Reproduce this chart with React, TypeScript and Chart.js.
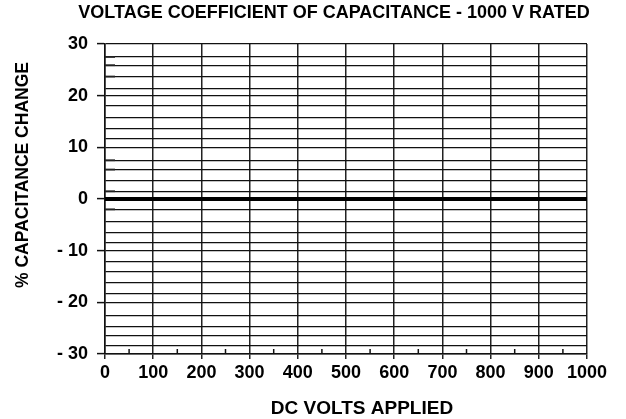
import React, { useEffect, useRef } from "react";
import { Chart, registerables } from "chart.js";

Chart.register(...registerables);

// ---- data ----
const voltages = [0, 100, 200, 300, 400, 500, 600, 700, 800, 900, 1000];
const capChange = [0, 0, 0, 0, 0, 0, 0, 0, 0, 0, 0];

const yMajorTicks = [-30, -20, -10, 0, 10, 20, 30];
const yMinorGrid = [
  27.5, 25.9, 23.7, 21.4, 18.1, 15.7, 13.7, 11.6, 7.5, 5.7, 3.55, 1.5,
  -2.0, -4.3, -6.5, -8.5, -12.2, -14.1, -16.2, -18.3, -22.5, -24.6, -26.5, -28.4,
];
const yStubs = [27.5, 25.9, 23.7, 7.5, 5.7, 1.5, -2.0];
const xMajorTicks = [0, 100, 200, 300, 400, 500, 600, 700, 800, 900, 1000];
const xMinorTicks = [50, 150, 250, 350, 450, 550, 650, 750, 850, 950];

const titleText = "VOLTAGE COEFFICIENT OF CAPACITANCE - 1000 V RATED";
const xTitleText = "DC VOLTS APPLIED";
const yTitleText = "% CAPACITANCE CHANGE";

const FONT = "'Liberation Sans', Arial, Helvetica, sans-serif";

const fmtY = (v: number) => (v < 0 ? "- " + Math.abs(v) : String(v));

const decorPlugin = {
  id: "decor",
  afterDatasetsDraw(chart: any) {
    const { ctx, chartArea, scales } = chart;
    const xs = scales.x;
    const ys = scales.y;
    ctx.save();
    ctx.strokeStyle = "#111";
    // minor x ticks pointing up from the bottom axis
    ctx.lineWidth = 1.5;
    xMinorTicks.forEach((v) => {
      const x = xs.getPixelForValue(v);
      ctx.beginPath();
      ctx.moveTo(x, chartArea.bottom);
      ctx.lineTo(x, chartArea.bottom - 5);
      ctx.stroke();
    });
    // short heavier stubs on left edge
    ctx.lineWidth = 1.8;
    ctx.strokeStyle = "#222";
    yStubs.forEach((v) => {
      const y = ys.getPixelForValue(v);
      ctx.beginPath();
      ctx.moveTo(chartArea.left, y);
      ctx.lineTo(chartArea.left + 10, y);
      ctx.stroke();
    });
    ctx.restore();
  },
  afterDraw(chart: any) {
    const { ctx, chartArea } = chart;
    const cx = (chartArea.left + chartArea.right) / 2;
    const cy = (chartArea.top + chartArea.bottom) / 2;
    ctx.save();
    ctx.fillStyle = "#000";
    ctx.textAlign = "center";
    ctx.textBaseline = "middle";
    ctx.font = `bold 18px ${FONT}`;
    ctx.fillText(titleText, cx - 12, 13.5);
    ctx.font = `bold 19px ${FONT}`;
    ctx.fillText(xTitleText, cx + 16, 409);
    ctx.font = `bold 17.5px ${FONT}`;
    ctx.translate(23, cy - 24);
    ctx.rotate(-Math.PI / 2);
    ctx.fillText(yTitleText, 0, 0);
    ctx.restore();
  },
};

export default function App() {
  const ref = useRef<HTMLCanvasElement | null>(null);

  useEffect(() => {
    if (!ref.current) return;
    const chart = new Chart(ref.current, {
      type: "line",
      data: {
        labels: voltages,
        datasets: [
          {
            label: "% Capacitance Change",
            data: voltages.map((v, i) => ({ x: v, y: capChange[i] })),
            borderColor: "#000",
            borderWidth: 4,
            pointRadius: 0,
            fill: false,
            tension: 0,
          },
        ],
      },
      options: {
        animation: false,
        responsive: false,
        devicePixelRatio: 1,
        layout: { padding: { top: 44, right: 39, left: 0, bottom: 0 } },
        plugins: {
          legend: { display: false },
          title: { display: false },
          tooltip: { enabled: false },
        },
        scales: {
          x: {
            type: "linear",
            min: 0,
            max: 1000,
            afterBuildTicks: (scale: any) => {
              scale.ticks = xMajorTicks.map((v) => ({ value: v }));
            },
            afterFit: (scale: any) => {
              scale.height = 65;
            },
            grid: {
              color: "#222",
              lineWidth: 1.5,
              tickLength: 5,
              tickColor: "#222",
              tickWidth: 1.5,
            },
            border: { display: true, color: "#111", width: 1.5 },
            ticks: {
              autoSkip: false,
              maxRotation: 0,
              padding: 3,
              color: "#000",
              font: { family: FONT, weight: "bold", size: 18 },
              callback: (v: any) => String(v),
            },
          },
          y: {
            type: "linear",
            min: -30,
            max: 30,
            afterBuildTicks: (scale: any) => {
              const all = [...yMajorTicks, ...yMinorGrid].sort((a, b) => a - b);
              scale.ticks = all.map((v) => ({ value: v }));
            },
            afterFit: (scale: any) => {
              scale.width = 105;
            },
            grid: {
              color: "#111",
              lineWidth: 1.2,
              tickLength: 8,
              tickColor: (c: any) =>
                c.tick && yMajorTicks.includes(c.tick.value) ? "#111" : "rgba(0,0,0,0)",
              tickWidth: 1.5,
            },
            border: { display: true, color: "#111", width: 1.5 },
            ticks: {
              autoSkip: false,
              padding: 9,
              color: "#000",
              font: { family: FONT, weight: "bold", size: 18 },
              callback: (v: any) => (yMajorTicks.includes(Number(v)) ? fmtY(Number(v)) : ""),
            },
          },
        },
      } as any,
      plugins: [decorPlugin],
    });
    return () => chart.destroy();
  }, []);

  return (
    <div style={{ position: "fixed", left: 0, top: 0, width: 626, height: 419, background: "#fff" }}>
      <canvas ref={ref} width={626} height={419} style={{ display: "block" }} />
    </div>
  );
}
